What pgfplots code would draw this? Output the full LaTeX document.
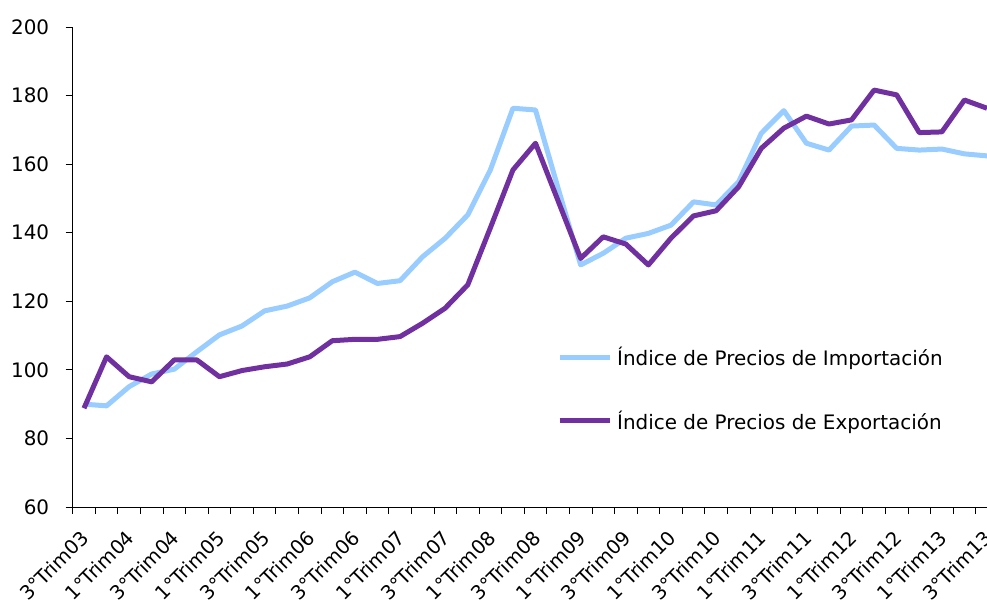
\documentclass[border=0pt]{standalone}
\usepackage{fontspec}
\setmainfont{DejaVu Sans}
\usepackage{pgfplots}
\pgfplotsset{compat=1.18}
\definecolor{impblue}{RGB}{153,204,255}
\definecolor{exppurple}{RGB}{112,48,160}
\newcommand{\chartfont}{\fontsize{20}{24}\selectfont}
\newcommand{\xlabfont}{\fontsize{19.5}{23}\selectfont}
\begin{document}
\begin{tikzpicture}
\useasboundingbox (0bp,0bp) rectangle (987bp,605bp);
\begin{axis}[
  scale only axis,
  width=914.3bp, height=480bp,
  at={(72.7bp,98bp)}, anchor=south west,
  axis x line*=bottom, axis y line*=left,
  axis line style={black, line width=0.8bp},
  xmin=-0.5, xmax=40, ymin=60, ymax=200,
  ytick={60,80,...,200},
  xtick={-0.5,0.5,...,40.5},
  xticklabels={},
  extra x ticks={0,2,...,40},
  extra x tick labels={3°Trim03,1°Trim04,3°Trim04,1°Trim05,3°Trim05,1°Trim06,3°Trim06,1°Trim07,3°Trim07,1°Trim08,3°Trim08,1°Trim09,3°Trim09,1°Trim10,3°Trim10,1°Trim11,3°Trim11,1°Trim12,3°Trim12,1°Trim13,3°Trim13},
  extra x tick style={major tick length=0pt, tick label style={xshift=-4bp, yshift=-17bp, rotate=45, anchor=north east, font=\xlabfont}},
  tick align=outside,
  major tick length=7bp,
  tick style={black, line width=0.8bp},
  y tick label style={font=\chartfont, xshift=-13bp},
  /pgf/number format/assume math mode=true,
  clip=true,
  legend style={at={(rel axis cs:0.5275,0.342)}, anchor=north west, draw=none, fill=none, font=\chartfont, row sep=40bp, inner sep=2bp},
  legend cell align=left,
  legend image code/.code={\draw[#1] (0bp,0bp) -- (50bp,0bp);},
  legend style={nodes={inner xsep=5bp}},
]
\addplot[impblue, line width=5bp, line join=round] coordinates {
(0,90.0) (1,89.5) (2,95.1) (3,98.8) (4,100.2) (5,105.3) (6,110.2) (7,112.8) (8,117.2) (9,118.6)
(10,121.0) (11,125.7) (12,128.5) (13,125.2) (14,126.0) (15,133.0) (16,138.4) (17,145.2) (18,158.3) (19,176.3)
(20,175.8) (21,153.0) (22,130.6) (23,134.0) (24,138.4) (25,139.8) (26,142.2) (27,149.0) (28,148.1) (29,154.9)
(30,169.0) (31,175.6) (32,166.1) (33,164.1) (34,171.1) (35,171.4) (36,164.6) (37,164.1) (38,164.4) (39,163.0)
(40,162.4)
};
\addlegendentry{Índice de Precios de Importación}
\addplot[exppurple, line width=5bp, line join=round] coordinates {
(0,88.8) (1,103.8) (2,98.0) (3,96.5) (4,102.9) (5,102.9) (6,98.0) (7,99.8) (8,100.9) (9,101.7)
(10,103.8) (11,108.5) (12,108.9) (13,108.9) (14,109.7) (15,113.6) (16,118.0) (17,124.8) (18,141.4) (19,158.3)
(20,166.1) (21,149.3) (22,132.5) (23,138.8) (24,136.7) (25,130.6) (26,138.4) (27,144.9) (28,146.4) (29,153.4)
(30,164.6) (31,170.5) (32,174.0) (33,171.7) (34,172.9) (35,181.6) (36,180.2) (37,169.2) (38,169.4) (39,178.7)
(40,176.3)
};
\addlegendentry{Índice de Precios de Exportación}
\end{axis}
\end{tikzpicture}
\end{document}
